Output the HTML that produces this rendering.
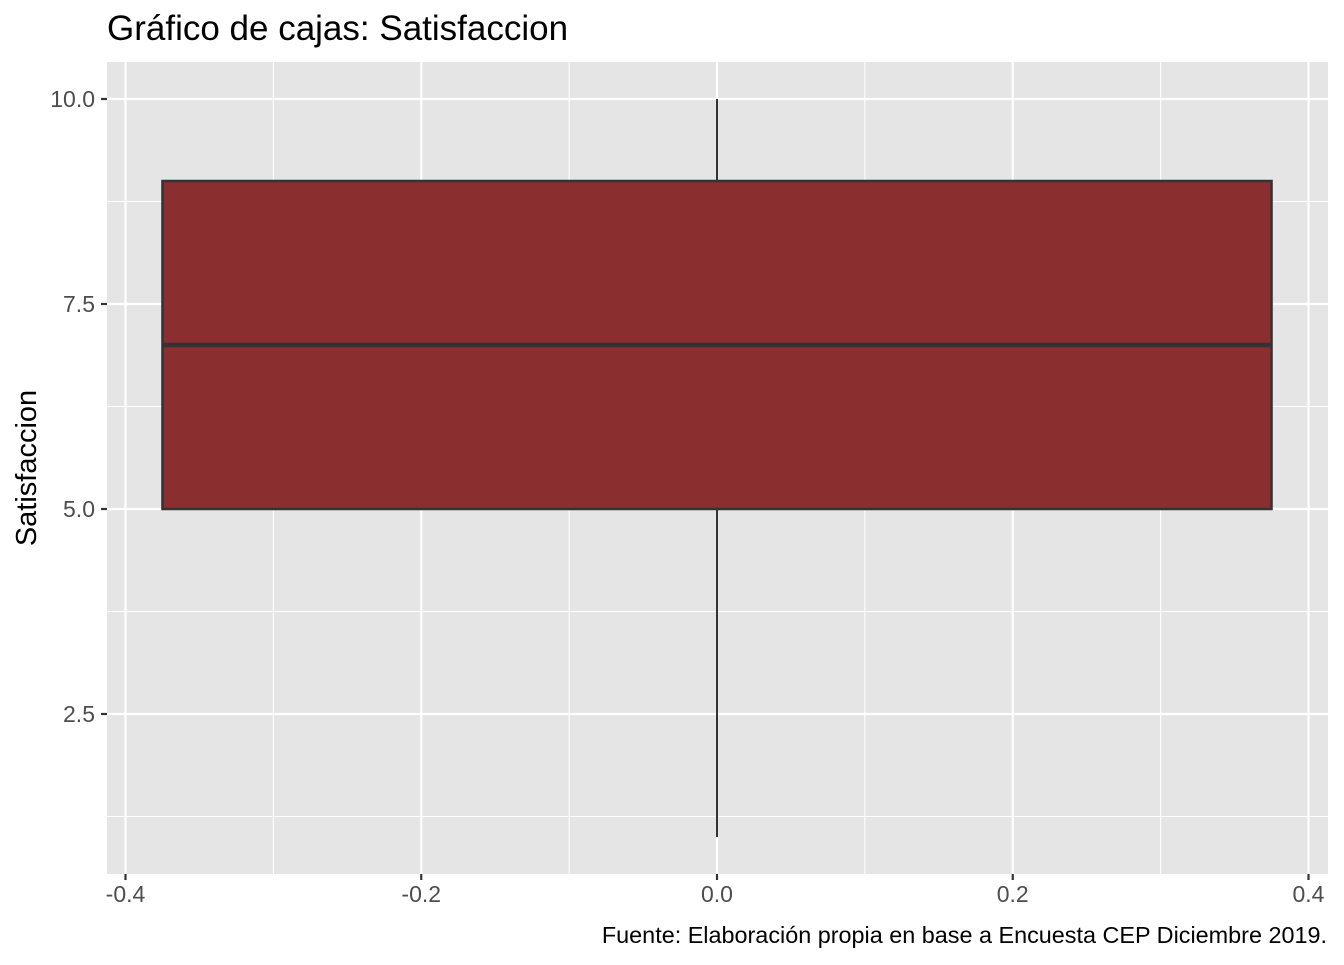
<!DOCTYPE html>
<html><head><meta charset="utf-8"><style>
body{margin:0;background:#fff;font-family:"Liberation Sans",Arial,sans-serif}
</style></head><body>
<svg width="1344" height="960" xmlns="http://www.w3.org/2000/svg" id="chart" font-family="Liberation Sans, Arial, sans-serif">
<text x="107" y="40" font-size="35" fill="#000">Gráfico de cajas: Satisfaccion</text>
<rect x="107" y="62" width="1221" height="812" fill="#E5E5E5"/>
<g id="grid"></g>
<g id="marks"></g>
<g id="axes"></g>
<text transform="translate(36,468) rotate(-90)" text-anchor="middle" font-size="29" fill="#000">Satisfaccion</text>
<text x="1327" y="943" text-anchor="end" font-size="23.4" fill="#000">Fuente: Elaboración propia en base a Encuesta CEP Diciembre 2019.</text>
</svg>
<script>
const xTicks=[-0.4,-0.2,0.0,0.2,0.4];
const xTickLabels=["-0.4","-0.2","0.0","0.2","0.4"];
const xMinor=[-0.3,-0.1,0.1,0.3];
const yTicks=[2.5,5.0,7.5,10.0];
const yTickLabels=["2.5","5.0","7.5","10.0"];
const yMinor=[1.25,3.75,6.25,8.75];
const boxMin=[1];
const boxQ1=[5];
const boxMedian=[7];
const boxQ3=[9];
const boxMax=[10];
const boxCenter=[0];
const boxHalfWidth=0.375;

const NS="http://www.w3.org/2000/svg";
const X=v=>717+(v)*1478.75;
const Y=v=>99+(10-v)*82;
function mk(tag,attrs,parent){const e=document.createElementNS(NS,tag);for(const k in attrs)e.setAttribute(k,attrs[k]);parent.appendChild(e);return e;}
const grid=document.getElementById('grid'),marks=document.getElementById('marks'),axes=document.getElementById('axes');
xMinor.forEach(v=>{const l=mk('line',{x1:X(v),x2:X(v),y1:62,y2:874,stroke:'#fff','stroke-width':1.1},grid);

});
yMinor.forEach(v=>{const l=mk('line',{x1:107,x2:1328,y1:Y(v),y2:Y(v),stroke:'#fff','stroke-width':1.1},grid);

});
xTicks.forEach((v,i)=>{const l=mk('line',{x1:X(v),x2:X(v),y1:62,y2:874,stroke:'#fff','stroke-width':2.2},grid);


const t=mk('line',{x1:X(v),x2:X(v),y1:874,y2:880,stroke:'#333','stroke-width':2.2},axes);


const tx=mk('text',{x:X(v),y:902,'text-anchor':'middle','font-size':23,fill:'#4D4D4D'},axes);tx.textContent=xTickLabels[i];

});
yTicks.forEach((v,i)=>{const l=mk('line',{x1:107,x2:1328,y1:Y(v),y2:Y(v),stroke:'#fff','stroke-width':2.2},grid);


const t=mk('line',{x1:101,x2:107,y1:Y(v),y2:Y(v),stroke:'#333','stroke-width':2.2},axes);


const tx=mk('text',{x:95,y:Y(v)+8,'text-anchor':'end','font-size':23,fill:'#4D4D4D'},axes);tx.textContent=yTickLabels[i];

});
boxCenter.forEach((c,i)=>{
const w1=mk('line',{x1:X(c),x2:X(c),y1:Y(boxMax[i]),y2:Y(boxQ3[i]),stroke:'#333','stroke-width':2},marks);


const w2=mk('line',{x1:X(c),x2:X(c),y1:Y(boxQ1[i]),y2:Y(boxMin[i]),stroke:'#333','stroke-width':2},marks);


const b=mk('rect',{x:X(c-boxHalfWidth),y:Y(boxQ3[i]),width:X(c+boxHalfWidth)-X(c-boxHalfWidth),height:Y(boxQ1[i])-Y(boxQ3[i]),fill:'#8B2E30',stroke:'#333','stroke-width':2.5},marks);


const m=mk('line',{x1:X(c-boxHalfWidth),x2:X(c+boxHalfWidth),y1:Y(boxMedian[i]),y2:Y(boxMedian[i]),stroke:'#333','stroke-width':4.5},marks);


});
</script>
</body></html>
